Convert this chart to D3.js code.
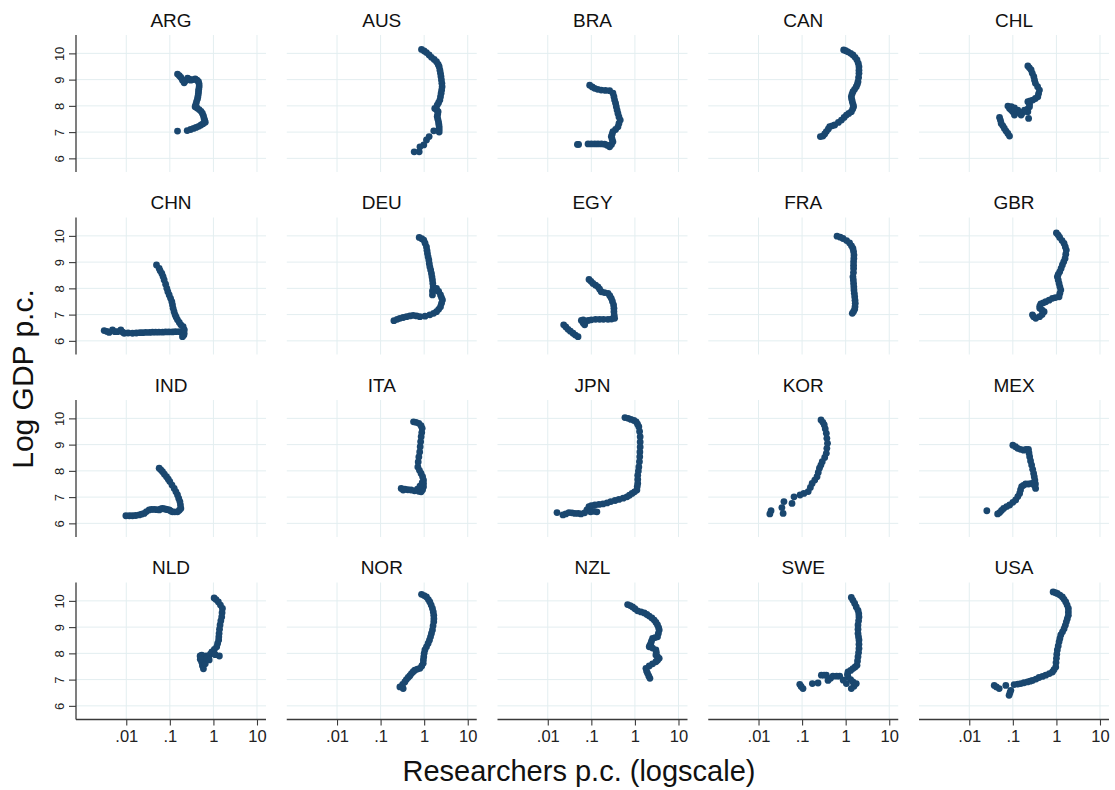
<!DOCTYPE html>
<html><head><meta charset="utf-8">
<script src="https://cdn.jsdelivr.net/npm/d3@7"></script>
<style>body{margin:0;background:#fff}</style>
</head><body>
<svg id="c" width="1115" height="790"></svg>
<script>
// Researchers p.c. (x, log scale) vs Log GDP p.c. (y), one array per country
const countries = ["ARG","AUS","BRA","CAN","CHL","CHN","DEU","EGY","FRA","GBR","IND","ITA","JPN","KOR","MEX","NLD","NOR","NZL","SWE","USA"];

const ARG = [[0.150,9.21],[0.165,9.15],[0.179,9.08],[0.195,8.98],[0.213,8.88],[0.235,8.97],[0.255,9.06],[0.28,9.02],[0.303,8.98],[0.34,9.0],[0.382,9.03],[0.42,8.98],[0.455,8.92],[0.47,8.83],[0.471,8.73],[0.46,8.63],[0.455,8.54],[0.45,8.45],[0.44,8.35],[0.43,8.26],[0.41,8.16],[0.395,8.06],[0.38,7.97],[0.42,7.92],[0.47,7.86],[0.52,7.79],[0.56,7.71],[0.59,7.62],[0.61,7.52],[0.63,7.45],[0.65,7.38],[0.58,7.32],[0.52,7.27],[0.46,7.22],[0.40,7.18],[0.35,7.14],[0.30,7.10],[0.25,7.06],[0.150,7.04]];
const AUS = [[0.87,10.15],[1.0,10.09],[1.13,10.03],[1.30,9.94],[1.47,9.85],[1.70,9.77],[1.92,9.68],[2.1,9.58],[2.21,9.49],[2.30,9.36],[2.37,9.24],[2.43,9.12],[2.49,8.99],[2.55,8.86],[2.58,8.73],[2.52,8.6],[2.45,8.48],[2.37,8.35],[2.29,8.22],[2.14,8.12],[1.99,8.03],[1.75,7.9],[1.95,7.84],[2.09,7.78],[2.04,7.68],[1.99,7.59],[2.06,7.49],[2.13,7.39],[2.17,7.3],[2.21,7.2],[2.21,7.1],[2.21,7.0],[1.66,7.05],[1.30,6.83],[1.13,6.70],[0.98,6.51],[0.80,6.44],[0.77,6.25],[0.59,6.25]];
const BRA = [[0.0916,8.79],[0.105,8.72],[0.119,8.67],[0.14,8.63],[0.169,8.60],[0.21,8.59],[0.263,8.58],[0.313,8.48],[0.33,8.35],[0.342,8.22],[0.36,8.10],[0.374,7.97],[0.39,7.84],[0.408,7.71],[0.43,7.58],[0.461,7.46],[0.43,7.33],[0.408,7.2],[0.36,7.1],[0.313,7.02],[0.30,6.92],[0.287,6.83],[0.30,6.73],[0.313,6.63],[0.29,6.53],[0.263,6.44],[0.23,6.50],[0.202,6.54],[0.17,6.55],[0.142,6.55],[0.12,6.55],[0.1,6.55],[0.084,6.55],[0.051,6.53],[0.0479,6.53]];
const CAN = [[0.90,10.13],[1.0,10.10],[1.13,10.06],[1.30,10.0],[1.47,9.94],[1.65,9.85],[1.82,9.75],[1.95,9.62],[2.02,9.49],[2.02,9.36],[2.02,9.24],[1.98,9.08],[1.92,8.92],[1.85,8.82],[1.75,8.73],[1.6,8.63],[1.47,8.54],[1.40,8.45],[1.35,8.35],[1.38,8.25],[1.42,8.16],[1.48,8.06],[1.52,7.97],[1.45,7.88],[1.35,7.78],[1.18,7.71],[1.04,7.65],[0.92,7.56],[0.80,7.46],[0.68,7.37],[0.56,7.27],[0.49,7.24],[0.43,7.21],[0.40,7.12],[0.36,7.02],[0.33,6.93],[0.30,6.85],[0.263,6.83]];
const CHL = [[0.221,9.52],[0.24,9.45],[0.263,9.37],[0.28,9.24],[0.303,9.11],[0.315,8.98],[0.330,8.86],[0.37,8.73],[0.408,8.60],[0.39,8.47],[0.374,8.35],[0.33,8.28],[0.287,8.22],[0.25,8.19],[0.221,8.16],[0.241,8.06],[0.241,7.97],[0.221,7.88],[0.221,7.78],[0.2,7.81],[0.185,7.84],[0.17,7.75],[0.155,7.65],[0.142,7.75],[0.130,7.84],[0.12,7.75],[0.109,7.65],[0.1,7.78],[0.092,7.84],[0.084,7.9],[0.077,7.99],[0.092,7.97],[0.109,7.92],[0.23,7.52],[0.0495,7.56],[0.052,7.45],[0.054,7.33],[0.059,7.24],[0.064,7.14],[0.07,7.04],[0.077,6.95],[0.084,6.85]];
const CHN = [[0.00311,6.39],[0.0036,6.36],[0.00405,6.32],[0.00483,6.42],[0.0055,6.35],[0.0063,6.35],[0.0075,6.42],[0.0083,6.33],[0.00895,6.29],[0.011,6.30],[0.0139,6.29],[0.017,6.30],[0.0205,6.31],[0.0236,6.31],[0.028,6.32],[0.034,6.32],[0.040,6.33],[0.047,6.33],[0.056,6.33],[0.068,6.33],[0.08,6.34],[0.095,6.34],[0.115,6.34],[0.135,6.35],[0.164,6.35],[0.19,6.3],[0.213,6.29],[0.195,6.16],[0.21,6.22],[0.215,6.42],[0.202,6.54],[0.179,6.61],[0.165,6.70],[0.150,6.80],[0.14,6.90],[0.132,6.99],[0.125,7.11],[0.119,7.24],[0.115,7.37],[0.111,7.49],[0.104,7.62],[0.0966,7.75],[0.09,7.87],[0.0853,8.0],[0.08,8.16],[0.0741,8.32],[0.07,8.45],[0.0655,8.57],[0.06,8.67],[0.0569,8.76],[0.0494,8.89]];
const DEU = [[0.77,9.94],[0.88,9.89],[0.98,9.84],[1.05,9.72],[1.13,9.58],[1.16,9.45],[1.19,9.33],[1.23,9.2],[1.28,9.08],[1.31,8.95],[1.35,8.82],[1.41,8.7],[1.47,8.57],[1.51,8.44],[1.55,8.32],[1.58,8.19],[1.61,8.06],[1.55,7.9],[1.55,7.75],[1.72,7.92],[1.92,8.0],[2.15,7.88],[2.37,7.75],[2.5,7.65],[2.63,7.56],[2.5,7.43],[2.37,7.30],[2.15,7.2],[1.92,7.11],[1.65,7.05],[1.35,6.99],[1.05,6.94],[0.80,6.92],[0.67,6.95],[0.56,6.97],[0.47,6.95],[0.394,6.92],[0.33,6.89],[0.277,6.86],[0.24,6.82],[0.202,6.77]];
const EGY = [[0.0885,8.34],[0.098,8.27],[0.109,8.19],[0.125,8.12],[0.142,8.06],[0.155,7.97],[0.169,7.87],[0.2,7.84],[0.241,7.81],[0.265,7.72],[0.287,7.62],[0.305,7.50],[0.324,7.37],[0.33,7.24],[0.330,7.11],[0.335,6.98],[0.342,6.86],[0.29,6.83],[0.241,6.82],[0.19,6.82],[0.155,6.82],[0.125,6.82],[0.1,6.80],[0.085,6.78],[0.0741,6.73],[0.065,6.80],[0.059,6.78],[0.065,6.68],[0.0703,6.61],[0.0232,6.61],[0.026,6.53],[0.0292,6.44],[0.033,6.37],[0.038,6.29],[0.043,6.22],[0.0495,6.16]];
const FRA = [[0.634,9.99],[0.75,9.95],[0.87,9.90],[1.05,9.82],[1.23,9.73],[1.36,9.62],[1.47,9.52],[1.52,9.40],[1.55,9.27],[1.54,9.14],[1.52,9.01],[1.52,8.88],[1.52,8.76],[1.51,8.6],[1.47,8.44],[1.50,8.32],[1.52,8.19],[1.54,8.06],[1.55,7.94],[1.58,7.81],[1.61,7.68],[1.64,7.55],[1.66,7.43],[1.64,7.3],[1.61,7.2],[1.52,7.12],[1.42,7.05]];
const GBR = [[1.0,10.11],[1.1,10.03],[1.19,9.94],[1.35,9.82],[1.50,9.71],[1.60,9.58],[1.69,9.46],[1.64,9.30],[1.58,9.14],[1.47,9.01],[1.37,8.89],[1.28,8.76],[1.19,8.63],[1.1,8.53],[1.05,8.44],[1.1,8.32],[1.15,8.19],[1.2,8.06],[1.26,7.94],[1.2,7.81],[1.15,7.68],[0.95,7.65],[0.81,7.62],[0.68,7.55],[0.57,7.49],[0.5,7.45],[0.438,7.41],[0.415,7.32],[0.415,7.24],[0.47,7.17],[0.522,7.11],[0.47,7.0],[0.41,6.92],[0.336,6.86],[0.3,6.92],[0.282,6.99]];
const IND = [[0.0098,6.29],[0.0118,6.29],[0.0139,6.29],[0.0165,6.30],[0.0198,6.32],[0.0225,6.35],[0.0258,6.38],[0.029,6.45],[0.0335,6.51],[0.038,6.53],[0.0437,6.53],[0.05,6.52],[0.0569,6.51],[0.062,6.55],[0.068,6.57],[0.075,6.55],[0.081,6.54],[0.088,6.52],[0.0966,6.51],[0.105,6.47],[0.115,6.44],[0.13,6.44],[0.150,6.44],[0.165,6.5],[0.179,6.57],[0.175,6.70],[0.170,6.83],[0.16,6.95],[0.150,7.08],[0.138,7.2],[0.126,7.33],[0.112,7.46],[0.1,7.59],[0.092,7.68],[0.0838,7.78],[0.075,7.87],[0.068,7.97],[0.062,8.04],[0.0569,8.10]];
const ITA = [[0.57,9.87],[0.65,9.85],[0.755,9.81],[0.85,9.72],[0.90,9.62],[0.88,9.46],[0.853,9.30],[0.83,9.11],[0.81,8.92],[0.79,8.72],[0.755,8.53],[0.73,8.34],[0.716,8.15],[0.78,8.02],[0.85,7.9],[0.92,7.78],[0.966,7.65],[0.966,7.52],[0.966,7.39],[0.92,7.28],[0.853,7.2],[0.75,7.22],[0.70,7.3],[0.60,7.24],[0.5,7.27],[0.423,7.28],[0.36,7.30],[0.297,7.33],[0.33,7.27],[0.8,7.42],[0.9,7.55]];
const JPN = [[0.59,10.03],[0.70,10.0],[0.81,9.96],[0.95,9.92],[1.07,9.87],[1.15,9.78],[1.23,9.68],[1.28,9.5],[1.32,9.30],[1.32,9.1],[1.32,8.91],[1.30,8.72],[1.29,8.54],[1.27,8.35],[1.23,8.15],[1.2,7.99],[1.16,7.83],[1.16,7.67],[1.16,7.52],[1.13,7.4],[1.11,7.27],[0.98,7.2],[0.86,7.14],[0.75,7.07],[0.656,7.01],[0.54,6.96],[0.43,6.91],[0.35,6.87],[0.28,6.83],[0.23,6.78],[0.185,6.74],[0.15,6.72],[0.121,6.70],[0.10,6.67],[0.088,6.64],[0.079,6.51],[0.096,6.44],[0.115,6.46],[0.134,6.44],[0.07,6.40],[0.0577,6.36],[0.05,6.38],[0.042,6.38],[0.036,6.40],[0.0306,6.41],[0.026,6.36],[0.0223,6.32],[0.0163,6.41]];
const KOR = [[0.272,9.94],[0.30,9.85],[0.323,9.75],[0.34,9.6],[0.36,9.43],[0.37,9.24],[0.383,9.05],[0.37,8.86],[0.36,8.67],[0.33,8.51],[0.29,8.35],[0.27,8.22],[0.25,8.10],[0.235,7.94],[0.22,7.78],[0.195,7.65],[0.170,7.52],[0.155,7.37],[0.138,7.21],[0.11,7.14],[0.090,7.08],[0.0653,7.01],[0.0587,6.76],[0.0383,6.83],[0.0367,6.38],[0.0344,6.6],[0.0194,6.48],[0.0182,6.36]];
const MEX = [[0.1,8.98],[0.115,8.92],[0.129,8.86],[0.15,8.82],[0.177,8.79],[0.2,8.82],[0.228,8.82],[0.235,8.68],[0.243,8.54],[0.255,8.38],[0.27,8.22],[0.285,8.06],[0.30,7.90],[0.31,7.78],[0.32,7.65],[0.33,7.5],[0.333,7.33],[0.31,7.45],[0.27,7.52],[0.23,7.5],[0.197,7.50],[0.175,7.45],[0.159,7.40],[0.15,7.27],[0.143,7.14],[0.13,7.02],[0.116,6.89],[0.1,6.80],[0.0845,6.70],[0.072,6.64],[0.0615,6.57],[0.055,6.49],[0.0498,6.41],[0.0448,6.36],[0.0253,6.48]];
const NLD = [[1.04,10.11],[1.15,10.05],[1.30,9.96],[1.45,9.84],[1.61,9.71],[1.58,9.55],[1.55,9.39],[1.48,9.24],[1.42,9.08],[1.38,8.92],[1.35,8.76],[1.33,8.63],[1.32,8.51],[1.25,8.38],[1.19,8.25],[1.05,8.15],[0.92,8.06],[0.85,7.97],[1.1,7.95],[1.37,7.90],[0.77,7.85],[0.68,7.9],[0.59,7.88],[0.54,7.93],[0.495,7.90],[0.5,7.78],[0.54,7.66],[0.56,7.53],[0.59,7.41],[0.65,7.6],[0.7,7.8],[0.8,7.75]];
const NOR = [[0.87,10.25],[1.0,10.2],[1.13,10.15],[1.25,10.05],[1.35,9.96],[1.45,9.84],[1.55,9.71],[1.62,9.58],[1.66,9.45],[1.67,9.32],[1.66,9.20],[1.6,9.05],[1.55,8.89],[1.47,8.76],[1.40,8.63],[1.32,8.5],[1.23,8.38],[1.13,8.25],[1.04,8.13],[1.0,8.0],[0.98,7.87],[0.96,7.75],[0.95,7.62],[0.88,7.52],[0.80,7.43],[0.70,7.4],[0.61,7.36],[0.56,7.3],[0.51,7.23],[0.47,7.15],[0.43,7.08],[0.39,7.0],[0.36,6.91],[0.32,6.82],[0.277,6.72],[0.33,6.66]];
const NZL = [[0.68,9.86],[0.78,9.82],[0.885,9.77],[1.0,9.7],[1.15,9.62],[1.38,9.58],[1.64,9.54],[1.88,9.48],[2.13,9.42],[2.45,9.35],[2.77,9.27],[3.05,9.18],[3.30,9.08],[3.50,8.98],[3.61,8.89],[3.45,8.76],[3.30,8.63],[2.9,8.60],[2.54,8.57],[2.4,8.47],[2.32,8.38],[2.2,8.3],[2.13,8.25],[2.54,8.2],[3.03,8.13],[3.1,8.04],[3.03,7.94],[3.3,7.87],[3.61,7.81],[3.3,7.74],[3.03,7.68],[2.54,7.6],[2.13,7.52],[1.79,7.43],[1.85,7.33],[1.95,7.24],[2.08,7.14],[2.21,7.05]];
const SWE = [[1.35,10.13],[1.47,10.02],[1.61,9.90],[1.75,9.77],[1.92,9.64],[2.0,9.51],[2.02,9.39],[1.98,9.24],[1.92,9.08],[1.92,8.92],[1.92,8.76],[1.97,8.63],[2.02,8.51],[2.02,8.35],[2.02,8.19],[1.98,8.03],[1.92,7.87],[1.87,7.71],[1.82,7.55],[1.65,7.48],[1.47,7.42],[1.3,7.35],[1.13,7.29],[1.1,7.19],[1.13,7.10],[1.3,7.0],[1.47,6.91],[1.75,6.85],[1.55,6.75],[1.35,6.66],[1.04,6.85],[0.88,6.98],[0.73,7.13],[0.62,7.13],[0.51,7.13],[0.45,7.05],[0.394,6.97],[0.36,7.17],[0.32,7.17],[0.277,7.17],[0.232,6.87],[0.172,6.85],[0.105,6.66],[0.095,6.74],[0.0885,6.82]];
const USA = [[0.84,10.34],[0.95,10.31],[1.05,10.28],[1.2,10.22],[1.37,10.15],[1.5,10.06],[1.64,9.96],[1.76,9.84],[1.88,9.71],[1.88,9.58],[1.88,9.45],[1.78,9.32],[1.69,9.20],[1.6,9.07],[1.50,8.94],[1.38,8.82],[1.26,8.70],[1.2,8.57],[1.15,8.44],[1.1,8.28],[1.05,8.13],[1.02,7.97],[1.0,7.81],[0.98,7.65],[0.966,7.48],[0.88,7.38],[0.81,7.29],[0.69,7.23],[0.57,7.17],[0.48,7.12],[0.40,7.08],[0.34,7.02],[0.282,6.97],[0.25,6.94],[0.217,6.91],[0.18,6.88],[0.152,6.85],[0.13,6.83],[0.107,6.81],[0.090,6.59],[0.086,6.5],[0.082,6.40],[0.069,6.78],[0.0486,6.66],[0.042,6.72],[0.0374,6.78]];

const seriesByCountry = {ARG,AUS,BRA,CAN,CHL,CHN,DEU,EGY,FRA,GBR,IND,ITA,JPN,KOR,MEX,NLD,NOR,NZL,SWE,USA};

const xTickValues = [0.01, 0.1, 1, 10];
const xTickLabels = [".01", ".1", "1", "10"];
const yTickValues = [6, 7, 8, 9, 10];
const yTickLabels = ["6", "7", "8", "9", "10"];
const xTitle = "Researchers p.c. (logscale)";
const yTitle = "Log GDP p.c.";

// ---- layout ----
const FONT = "'Liberation Sans', Arial, Helvetica, sans-serif";
const W = 190, H = 137;
const left0 = 76, top0 = 35, stepX = 210.75, stepY = 182.5;
const NCOL = 5, NROW = 4;
const DOT = "#1a476f", GRID = "#e3eef0", AXIS = "#3a3a3a";

const x = d3.scaleLog().domain([0.000702, 16.1]).range([0, W]);
const y = d3.scaleLinear().domain([5.48, 10.70]).range([H, 0]);

const svg = d3.select("#c").style("font-family", FONT);
svg.append("rect").attr("width", 1115).attr("height", 790).attr("fill", "#fff");

countries.forEach((name, i) => {
  const col = i % NCOL, row = Math.floor(i / NCOL);
  const g = svg.append("g").attr("transform", `translate(${left0 + col * stepX},${top0 + row * stepY})`);

  // grid
  g.selectAll("line.hg").data(yTickValues).join("line")
    .attr("x1", 0).attr("x2", W).attr("y1", d => y(d)).attr("y2", d => y(d))
    .attr("stroke", GRID).attr("stroke-width", 1);
  g.selectAll("line.vg").data(xTickValues).join("line")
    .attr("y1", 0).attr("y2", H).attr("x1", d => x(d)).attr("x2", d => x(d))
    .attr("stroke", GRID).attr("stroke-width", 1);

  // title
  g.append("text").attr("x", W / 2).attr("y", -8.5).attr("text-anchor", "middle")
    .attr("font-size", 19).attr("fill", "#111").text(name);

  // y axis on first column
  if (col === 0) {
    const ax = g.append("g").call(d3.axisLeft(y).tickValues(yTickValues)
      .tickFormat((d, k) => yTickLabels[k]).tickSize(7).tickSizeOuter(0));
    ax.select(".domain").attr("stroke", AXIS).attr("stroke-width", 1.3)
      .attr("d", `M0,0V${H}`);
    ax.selectAll(".tick line").attr("stroke", AXIS).attr("stroke-width", 1.1);
    ax.selectAll(".tick text").attr("x", 0).attr("dy", 0).attr("y", 0)
      .attr("text-anchor", "middle").attr("transform", "translate(-12.5,0) rotate(-90)")
      .attr("font-size", 13).attr("font-family", FONT).attr("fill", "#222");
  }
  // x axis on last row
  if (row === NROW - 1) {
    const ax = g.append("g").attr("transform", `translate(0,${H})`)
      .call(d3.axisBottom(x).tickValues(xTickValues)
        .tickFormat((d, k) => xTickLabels[k]).tickSize(6).tickSizeOuter(0).tickPadding(5));
    ax.select(".domain").attr("stroke", AXIS).attr("stroke-width", 1.3).attr("d", `M0,0H${W}`);
    ax.selectAll(".tick line").attr("stroke", AXIS).attr("stroke-width", 1.1);
    ax.selectAll(".tick text").attr("font-size", 16.5).attr("font-family", FONT).attr("fill", "#222");
  }

  // points
  g.selectAll("circle").data(seriesByCountry[name]).join("circle")
    .attr("cx", d => x(d[0])).attr("cy", d => y(d[1])).attr("r", 3.4)
    .attr("fill", DOT);
});

// axis titles
svg.append("text").attr("transform", "translate(33,379) rotate(-90)")
  .attr("text-anchor", "middle").attr("font-size", 30).attr("fill", "#111").text(yTitle);
svg.append("text").attr("x", 579).attr("y", 781)
  .attr("text-anchor", "middle").attr("font-size", 29).attr("fill", "#111").text(xTitle);
</script>
</body></html>
